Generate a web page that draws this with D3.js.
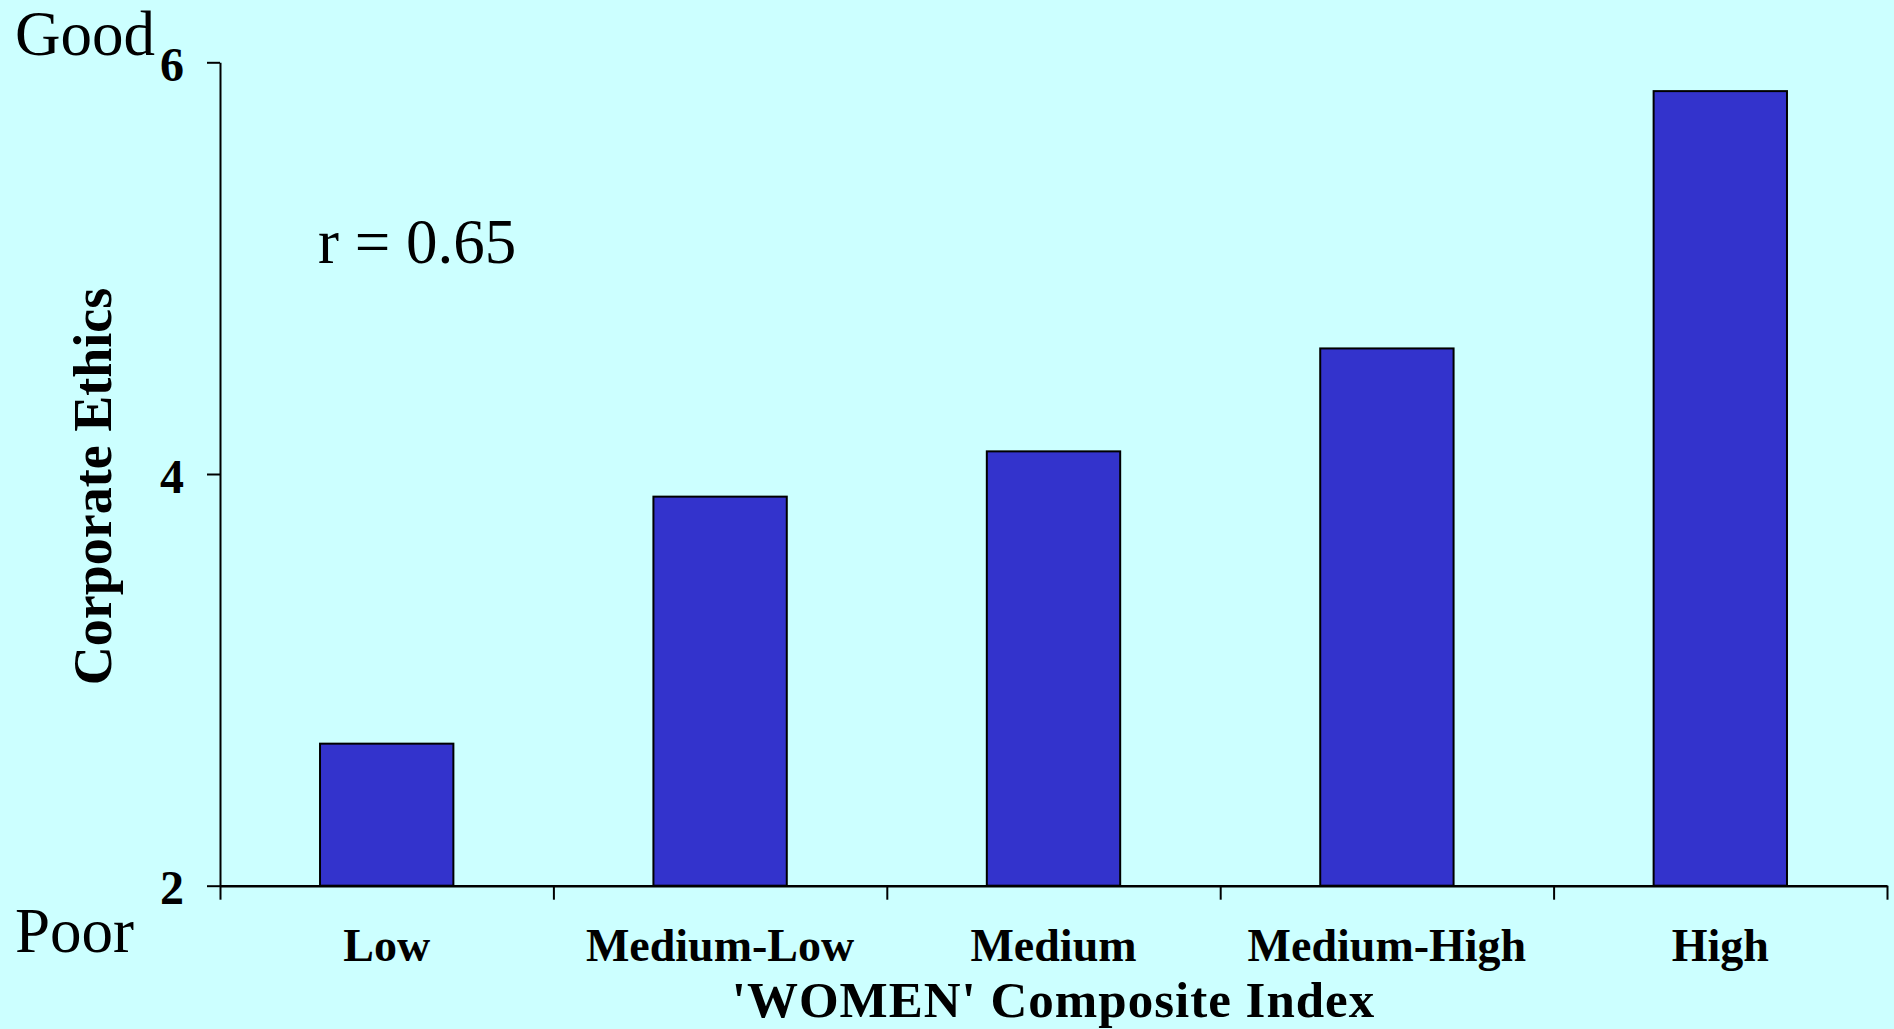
<!DOCTYPE html>
<html>
<head>
<meta charset="utf-8">
<script src="https://cdn.jsdelivr.net/npm/d3@7"></script>
<style>
  html, body { margin: 0; padding: 0; background: #CCFFFF; overflow: hidden; }
  svg { display: block; }
  text { font-family: "Liberation Serif", "Times New Roman", serif; fill: #000; }
</style>
</head>
<body>
<svg id="chart" width="1894" height="1029"></svg>
<script>
const categories = ["Low", "Medium-Low", "Medium", "Medium-High", "High"];
const values = [2.69, 3.89, 4.11, 4.61, 5.86];
const yTicks = [2, 4, 6];
const xTitle = "'WOMEN' Composite Index";
const yTitle = "Corporate Ethics";
const topLabel = "Good";
const bottomLabel = "Poor";
const note = "r = 0.65";

(function () {
const svg = d3.select("#chart");
svg.append("rect").attr("width", 1894).attr("height", 1029).attr("fill", "#CCFFFF");

const mLeft = 220, mRight = 1887, mTop = 62.3, mBottom = 885.7;

const x = d3.scaleBand().domain(categories).range([mLeft, mRight])
  .paddingInner(0.6).paddingOuter(0.3);
const xb = d3.scaleLinear().domain([0, categories.length]).range([mLeft, mRight]);
const y = d3.scaleLinear().domain([2, 6]).range([mBottom, mTop]);

// bars
svg.append("g").selectAll("rect").data(values).join("rect")
  .attr("x", (d, i) => x(categories[i]))
  .attr("y", d => y(d))
  .attr("width", x.bandwidth())
  .attr("height", d => y(2) - y(d))
  .attr("fill", "#3333CC")
  .attr("stroke", "#000")
  .attr("stroke-width", 2);

// y axis
const yAxis = svg.append("g").attr("transform", `translate(${mLeft},0)`)
  .call(d3.axisLeft(y).tickValues(yTicks).tickFormat(d3.format("d")).tickSizeInner(13).tickSizeOuter(0).tickPadding(23));
yAxis.select(".domain").attr("stroke", "#000").attr("stroke-width", 2);
yAxis.selectAll(".tick line").attr("stroke", "#000").attr("stroke-width", 2);
yAxis.selectAll(".tick text")
  .attr("font-family", "Liberation Serif, serif")
  .attr("font-size", 48).attr("font-weight", "bold").attr("dy", "0.38em");

// x axis (ticks at category boundaries)
const xAxis = svg.append("g").attr("transform", `translate(0,${mBottom})`)
  .call(d3.axisBottom(xb).tickValues(d3.range(categories.length + 1)).tickFormat("").tickSizeInner(14).tickSizeOuter(0));
xAxis.select(".domain").attr("stroke", "#000").attr("stroke-width", 2.5);
xAxis.selectAll(".tick line").attr("stroke", "#000").attr("stroke-width", 2);

// category labels
svg.append("g").selectAll("text").data(categories).join("text")
  .attr("x", d => x(d) + x.bandwidth() / 2)
  .attr("y", 961)
  .attr("text-anchor", "middle")
  .attr("font-size", 46)
  .attr("font-weight", "bold")
  .text(d => d);

// x title
svg.append("text")
  .attr("x", (mLeft + mRight) / 2).attr("y", 1017)
  .attr("text-anchor", "middle")
  .attr("font-size", 51).attr("font-weight", "bold")
  .attr("letter-spacing", 1)
  .text(xTitle);

// y title
svg.append("text")
  .attr("transform", "translate(111,486.5) rotate(-90)")
  .attr("text-anchor", "middle")
  .attr("font-size", 54).attr("font-weight", "bold")
  .text(yTitle);

// Good / Poor
svg.append("text").attr("x", 15).attr("y", 55).attr("font-size", 63).text(topLabel);
svg.append("text").attr("x", 15).attr("y", 952).attr("font-size", 63).text(bottomLabel);

// note
svg.append("text").attr("x", 318).attr("y", 263).attr("font-size", 63).text(note);
})();
</script>
</body>
</html>
